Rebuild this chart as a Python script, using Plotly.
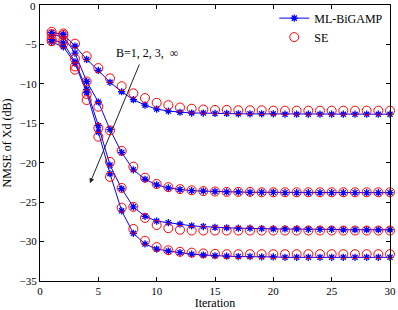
import plotly.graph_objects as go

iterations = list(range(1, 31))

ml_b1 = [-3.5, -3.7, -5.2, -6.9, -8.3, -9.8, -11.0, -12.0, -12.7, -13.2,
         -13.45, -13.6, -13.7, -13.7, -13.75, -13.75, -13.8, -13.8, -13.8, -13.8,
         -13.85, -13.85, -13.85, -13.85, -13.85, -13.85, -13.85, -13.85, -13.85, -13.85]
se_b1 = [-3.4, -3.6, -4.9, -6.5, -8.0, -9.3, -10.3, -11.2, -11.8, -12.4,
         -12.7, -13.0, -13.15, -13.25, -13.3, -13.3, -13.35, -13.35, -13.35, -13.4,
         -13.4, -13.4, -13.4, -13.4, -13.4, -13.4, -13.4, -13.4, -13.4, -13.4]

ml_b2 = [-3.8, -4.0, -6.1, -9.7, -12.3, -15.8, -18.7, -20.9, -22.1, -22.8,
         -23.2, -23.4, -23.55, -23.6, -23.65, -23.7, -23.7, -23.75, -23.75, -23.75,
         -23.8, -23.8, -23.8, -23.8, -23.8, -23.8, -23.8, -23.8, -23.8, -23.8]
se_b2 = [-3.7, -3.8, -6.8, -9.7, -12.9, -15.9, -18.5, -20.5, -21.9, -22.7,
         -23.1, -23.35, -23.5, -23.6, -23.65, -23.7, -23.7, -23.7, -23.75, -23.75,
         -23.75, -23.75, -23.75, -23.75, -23.75, -23.75, -23.75, -23.75, -23.75, -23.75]

ml_b3 = [-4.4, -4.8, -7.2, -10.7, -15.3, -20.3, -23.3, -25.6, -26.8, -27.4,
         -27.6, -27.8, -28.0, -28.1, -28.2, -28.25, -28.3, -28.3, -28.35, -28.4,
         -28.4, -28.4, -28.45, -28.45, -28.45, -28.5, -28.5, -28.5, -28.5, -28.5]
se_b3 = [-4.3, -4.5, -7.8, -11.3, -15.6, -19.9, -23.2, -25.6, -27.0, -27.9,
         -28.3, -28.5, -28.6, -28.6, -28.6, -28.6, -28.6, -28.6, -28.6, -28.6,
         -28.6, -28.6, -28.6, -28.6, -28.6, -28.6, -28.6, -28.6, -28.6, -28.6]

ml_binf = [-4.7, -5.3, -7.4, -11.1, -16.1, -21.4, -26.1, -28.95, -30.3, -30.95,
           -31.2, -31.4, -31.6, -31.7, -31.8, -31.85, -31.9, -31.9, -31.95, -31.95,
           -32.0, -32.0, -32.0, -32.0, -32.0, -32.0, -32.0, -32.0, -32.0, -32.0]
se_binf = [-4.6, -4.9, -8.2, -12.05, -16.7, -21.8, -25.7, -28.4, -29.9, -30.7,
           -31.1, -31.3, -31.4, -31.5, -31.55, -31.6, -31.6, -31.6, -31.6, -31.6,
           -31.6, -31.6, -31.6, -31.6, -31.6, -31.6, -31.6, -31.6, -31.6, -31.6]

ml_series = [ml_b1, ml_b2, ml_b3, ml_binf]
se_series = [se_b1, se_b2, se_b3, se_binf]

x_ticks = [0, 5, 10, 15, 20, 25, 30]
y_ticks = [-5, -10, -15, -20, -25, -30, -35]
y_top_tick = 0

FONT = "Liberation Serif"

fig = go.Figure()
for i, ys in enumerate(ml_series):
    fig.add_trace(go.Scatter(
        x=iterations, y=ys, mode="lines+markers", name="ML-BiGAMP",
        showlegend=(i == 0), legendrank=1, cliponaxis=False,
        line=dict(color="#0000ff", width=1),
        marker=dict(symbol="asterisk-open", size=6, color="#0000ff",
                    line=dict(color="#0000ff", width=1.3)),
    ))
for i, ys in enumerate(se_series):
    fig.add_trace(go.Scatter(
        x=iterations, y=ys, mode="markers", name="SE",
        showlegend=(i == 0), legendrank=2, cliponaxis=False,
        marker=dict(symbol="circle-open", size=9, color="#ff0000",
                    line=dict(color="#ff0000", width=1)),
    ))

fig.add_annotation(
    x=4.28, y=-22.6, ax=8.57, ay=-7.35, xref="x", yref="y", axref="x", ayref="y",
    text="", showarrow=True, arrowhead=2, arrowsize=1, arrowwidth=1, arrowcolor="#222222",
)
fig.add_annotation(
    x=9.2, y=-6.1, xref="x", yref="y", text="B=1, 2, 3,  ∞", showarrow=False,
    font=dict(family=FONT, size=12, color="#000000"),
)
# top y tick label, drawn as text next to the axis end
fig.add_annotation(
    x=0, y=y_top_tick, xref="paper", yref="y", text="<b></b>" + str(y_top_tick),
    showarrow=False, xanchor="right", yanchor="middle", xshift=-3, yshift=-1,
    borderpad=0, font=dict(family=FONT, size=11, color="#000000"),
)

axis_common = dict(
    showgrid=False, zeroline=False, showline=True, linecolor="#000000", linewidth=1,
    mirror="ticks", ticks="inside", ticklen=4, tickcolor="#000000",
    ticklabeloverflow="allow",
    tickfont=dict(family=FONT, size=11, color="#000000"),
)
fig.update_xaxes(range=[0, 30], tickvals=x_ticks,
                 title=dict(text="Iteration", font=dict(family=FONT, size=12, color="#000000"),
                            standoff=2),
                 **axis_common)
fig.update_yaxes(range=[-35, 0], tickvals=y_ticks,
                 title=dict(text="NMSE of Xd (dB)", font=dict(family=FONT, size=12, color="#000000"),
                            standoff=6),
                 **axis_common)

fig.update_layout(
    width=398, height=310,
    margin=dict(l=40, r=8, t=5, b=29, autoexpand=False),
    paper_bgcolor="#ffffff", plot_bgcolor="#ffffff",
    font=dict(family=FONT, size=11, color="#000000"),
    legend=dict(x=0.995, y=1.005, xanchor="right", yanchor="top",
                bgcolor="rgba(255,255,255,0)", borderwidth=0,
                font=dict(family=FONT, size=12, color="#000000"),
                tracegroupgap=0, itemwidth=30),
)

fig.write_html("out.html", config={"displayModeBar": False, "staticPlot": True})

# remove default page margin so the figure sits at the window's top-left corner
with open("out.html", "r", encoding="utf-8") as f:
    html = f.read()
html = html.replace("<head>", "<head><style>html,body{margin:0;padding:0;overflow:hidden;}</style>", 1)
with open("out.html", "w", encoding="utf-8") as f:
    f.write(html)
